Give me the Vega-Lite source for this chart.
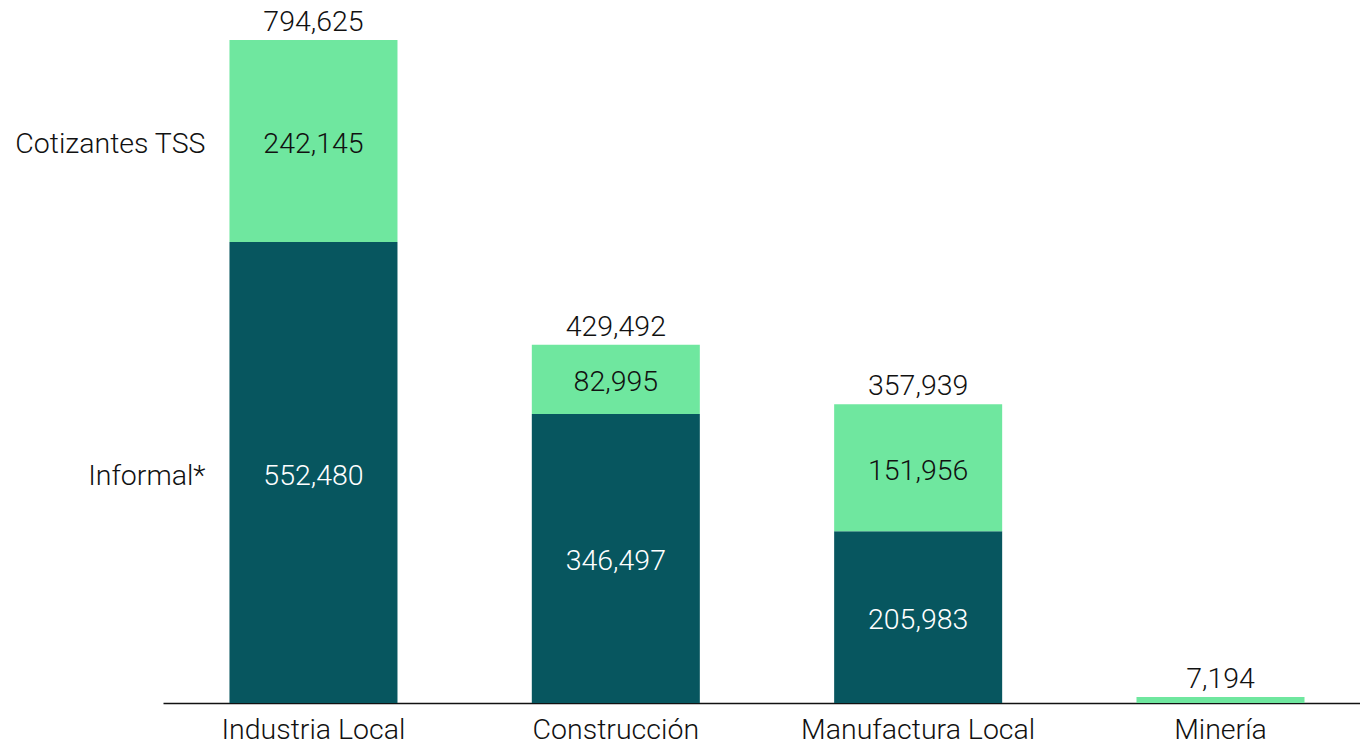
{
  "$schema": "https://vega.github.io/schema/vega-lite/v6.json",
  "width": 1197,
  "height": 663,
  "autosize": {"type": "none"},
  "padding": {"left": 163, "top": 40, "right": 0, "bottom": 42},
  "config": {"view": {"stroke": null}, "font": "Roboto", "text": {"font": "Roboto", "fontWeight": 300}},
  "data": {"values": [
    {"sector": "Industria Local", "serie": "Informal*", "valor": 552480, "orden": 1},
    {"sector": "Industria Local", "serie": "Cotizantes TSS", "valor": 242145, "orden": 2},
    {"sector": "Construcción", "serie": "Informal*", "valor": 346497, "orden": 1},
    {"sector": "Construcción", "serie": "Cotizantes TSS", "valor": 82995, "orden": 2},
    {"sector": "Manufactura Local", "serie": "Informal*", "valor": 205983, "orden": 1},
    {"sector": "Manufactura Local", "serie": "Cotizantes TSS", "valor": 151956, "orden": 2},
    {"sector": "Minería", "serie": "Informal*", "valor": 0, "orden": 1},
    {"sector": "Minería", "serie": "Cotizantes TSS", "valor": 7194, "orden": 2}
  ]},
  "encoding": {
    "x": {
      "field": "sector", "type": "nominal",
      "sort": ["Industria Local", "Construcción", "Manufactura Local", "Minería"],
      "scale": {"paddingInner": 0.4443, "paddingOuter": 0.2017, "align": 0.545},
      "axis": {"title": null, "ticks": false, "labelAngle": 0, "labelLimit": 0, "labelFont": "Roboto", "labelFontWeight": 300, "labelFontSize": 28.5, "labelColor": "#111111", "domainColor": "#111111", "domainWidth": 1.5, "labelPadding": 12}
    }
  },
  "layer": [
    {
      "mark": {"type": "bar"},
      "encoding": {
        "y": {"field": "valor", "type": "quantitative", "stack": "zero", "scale": {"domain": [0, 794625], "nice": false}, "axis": null},
        "color": {"field": "serie", "type": "nominal", "scale": {"domain": ["Informal*", "Cotizantes TSS"], "range": ["#07565F", "#6FE79F"]}, "legend": null},
        "order": {"field": "orden", "type": "quantitative"}
      }
    },
    {
      "transform": [{"filter": "datum.valor > 20000"}],
      "mark": {"type": "text", "fontSize": 28.5, "baseline": "middle", "dy": 3},
      "encoding": {
        "y": {"field": "valor", "type": "quantitative", "stack": "zero", "bandPosition": 0.5},
        "detail": {"field": "serie"},
        "order": {"field": "orden", "type": "quantitative"},
        "text": {"field": "valor", "type": "quantitative", "format": ",d"},
        "color": {"condition": {"test": "datum.serie === 'Informal*'", "value": "#ffffff"}, "value": "#111111"}
      }
    },
    {
      "transform": [{"filter": "datum.sector === 'Industria Local'"}],
      "mark": {"type": "text", "fontSize": 28.5, "baseline": "middle", "align": "right", "dx": -24, "dy": 3},
      "encoding": {
        "x": {"field": "sector", "type": "nominal", "sort": ["Industria Local", "Construcción", "Manufactura Local", "Minería"], "bandPosition": 0},
        "y": {"field": "valor", "type": "quantitative", "stack": "zero", "bandPosition": 0.5},
        "detail": {"field": "serie"},
        "order": {"field": "orden", "type": "quantitative"},
        "text": {"field": "serie"},
        "color": {"value": "#111111"}
      }
    },
    {
      "transform": [{"aggregate": [{"op": "sum", "field": "valor", "as": "total"}], "groupby": ["sector"]}],
      "mark": {"type": "text", "fontSize": 28.5, "baseline": "alphabetic", "dy": -9},
      "encoding": {
        "y": {"field": "total", "type": "quantitative"},
        "text": {"field": "total", "type": "quantitative", "format": ",d"},
        "color": {"value": "#111111"}
      }
    }
  ]
}
